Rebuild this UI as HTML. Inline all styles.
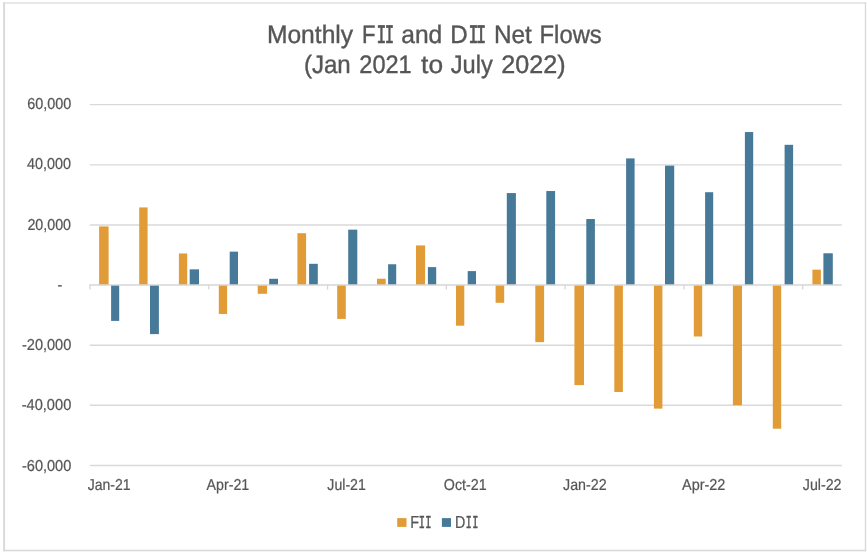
<!DOCTYPE html>
<html lang="en"><head><meta charset="utf-8"><title>Monthly FII and DII Net Flows</title>
<style>html,body{margin:0;padding:0;background:#fff;}svg{display:block;}text{font-family:'Liberation Sans',sans-serif;fill:#565656;text-rendering:geometricPrecision;stroke:#565656;stroke-width:0.22px;}.m{font-family:"DejaVu Sans Mono","Liberation Mono",monospace;stroke-width:0.5px;}.t{stroke-width:0.4px;}.t .m{stroke-width:0.65px;}</style></head><body>
<svg width="867" height="553" viewBox="0 0 867 553">
<rect x="0" y="0" width="867" height="553" fill="#fff"/>
<rect x="3.15" y="2.4" width="1.9" height="548.9" fill="#D9D9D9"/>
<rect x="3.15" y="2.4" width="863.05" height="1.2" fill="#D9D9D9"/>
<rect x="864.8" y="2.4" width="1.4" height="548.9" fill="#D9D9D9"/>
<rect x="3.15" y="549.7" width="863.05" height="1.6" fill="#D9D9D9"/>
<line x1="89.8" y1="104.60" x2="841.8" y2="104.60" stroke="#D9D9D9" stroke-width="1.4"/>
<line x1="89.8" y1="164.90" x2="841.8" y2="164.90" stroke="#D9D9D9" stroke-width="1.4"/>
<line x1="89.8" y1="225.00" x2="841.8" y2="225.00" stroke="#D9D9D9" stroke-width="1.4"/>
<line x1="89.8" y1="345.20" x2="841.8" y2="345.20" stroke="#D9D9D9" stroke-width="1.4"/>
<line x1="89.8" y1="405.30" x2="841.8" y2="405.30" stroke="#D9D9D9" stroke-width="1.4"/>
<line x1="89.8" y1="465.50" x2="841.8" y2="465.50" stroke="#D9D9D9" stroke-width="1.4"/>
<rect x="99.10" y="226.42" width="9.50" height="58.58" fill="#E19C38"/>
<rect x="111.10" y="285.00" width="8.10" height="35.91" fill="#477A99"/>
<rect x="139.20" y="207.42" width="8.40" height="77.58" fill="#E19C38"/>
<rect x="150.00" y="285.00" width="8.90" height="49.11" fill="#477A99"/>
<rect x="178.90" y="253.46" width="8.30" height="31.54" fill="#E19C38"/>
<rect x="189.70" y="269.34" width="9.30" height="15.66" fill="#477A99"/>
<rect x="218.80" y="285.00" width="8.30" height="28.96" fill="#E19C38"/>
<rect x="229.70" y="251.64" width="8.30" height="33.36" fill="#477A99"/>
<rect x="257.70" y="285.00" width="9.40" height="8.79" fill="#E19C38"/>
<rect x="269.20" y="278.78" width="8.80" height="6.22" fill="#477A99"/>
<rect x="297.40" y="233.21" width="8.70" height="51.79" fill="#E19C38"/>
<rect x="309.10" y="263.81" width="8.70" height="21.19" fill="#477A99"/>
<rect x="337.20" y="285.00" width="8.60" height="33.92" fill="#E19C38"/>
<rect x="348.20" y="229.66" width="9.10" height="55.34" fill="#477A99"/>
<rect x="377.00" y="278.73" width="8.70" height="6.27" fill="#E19C38"/>
<rect x="388.10" y="264.26" width="8.10" height="20.74" fill="#477A99"/>
<rect x="416.00" y="245.43" width="9.10" height="39.57" fill="#E19C38"/>
<rect x="427.90" y="267.10" width="8.30" height="17.90" fill="#477A99"/>
<rect x="456.00" y="285.00" width="8.30" height="40.67" fill="#E19C38"/>
<rect x="467.70" y="271.10" width="8.30" height="13.90" fill="#477A99"/>
<rect x="495.60" y="285.00" width="8.60" height="17.79" fill="#E19C38"/>
<rect x="506.80" y="193.06" width="9.10" height="91.94" fill="#477A99"/>
<rect x="535.30" y="285.00" width="8.80" height="57.14" fill="#E19C38"/>
<rect x="546.30" y="191.04" width="8.80" height="93.96" fill="#477A99"/>
<rect x="574.40" y="285.00" width="9.60" height="100.09" fill="#E19C38"/>
<rect x="586.30" y="219.03" width="8.60" height="65.97" fill="#477A99"/>
<rect x="614.30" y="285.00" width="8.60" height="106.98" fill="#E19C38"/>
<rect x="626.10" y="158.39" width="8.50" height="126.61" fill="#477A99"/>
<rect x="653.90" y="285.00" width="8.50" height="123.62" fill="#E19C38"/>
<rect x="665.00" y="165.63" width="9.20" height="119.37" fill="#477A99"/>
<rect x="693.80" y="285.00" width="8.40" height="51.48" fill="#E19C38"/>
<rect x="705.10" y="192.21" width="8.10" height="92.79" fill="#477A99"/>
<rect x="732.90" y="285.00" width="9.10" height="120.22" fill="#E19C38"/>
<rect x="744.90" y="132.06" width="8.30" height="152.94" fill="#477A99"/>
<rect x="772.80" y="285.00" width="8.40" height="143.71" fill="#E19C38"/>
<rect x="784.60" y="144.81" width="8.50" height="140.19" fill="#477A99"/>
<rect x="812.40" y="269.66" width="8.50" height="15.34" fill="#E19C38"/>
<rect x="823.40" y="253.27" width="9.40" height="31.73" fill="#477A99"/>
<line x1="89.3" y1="285.05" x2="841.8" y2="285.05" stroke="#D6D6D6" stroke-width="1.4"/>
<line x1="90.00" y1="285.00" x2="90.00" y2="289.60" stroke="#D6D6D6" stroke-width="1.25"/>
<line x1="208.78" y1="285.00" x2="208.78" y2="289.60" stroke="#D6D6D6" stroke-width="1.25"/>
<line x1="327.57" y1="285.00" x2="327.57" y2="289.60" stroke="#D6D6D6" stroke-width="1.25"/>
<line x1="446.35" y1="285.00" x2="446.35" y2="289.60" stroke="#D6D6D6" stroke-width="1.25"/>
<line x1="565.14" y1="285.00" x2="565.14" y2="289.60" stroke="#D6D6D6" stroke-width="1.25"/>
<line x1="683.92" y1="285.00" x2="683.92" y2="289.60" stroke="#D6D6D6" stroke-width="1.25"/>
<line x1="802.71" y1="285.00" x2="802.71" y2="289.60" stroke="#D6D6D6" stroke-width="1.25"/>
<text class="t" y="43.00" font-size="25.3"><tspan x="266.90" textLength="86.27" lengthAdjust="spacingAndGlyphs">Monthly</tspan> <tspan x="362.08" textLength="13.49" lengthAdjust="spacingAndGlyphs">F</tspan><tspan x="376.58" textLength="9.82" lengthAdjust="spacingAndGlyphs" class="m" font-size="23.9">I</tspan><tspan x="384.69" textLength="9.40" lengthAdjust="spacingAndGlyphs" class="m" font-size="23.9">I</tspan> <tspan x="401.27" textLength="41.04" lengthAdjust="spacingAndGlyphs">and</tspan> <tspan x="450.37" textLength="17.41" lengthAdjust="spacingAndGlyphs">D</tspan><tspan x="468.40" textLength="10.04" lengthAdjust="spacingAndGlyphs" class="m" font-size="23.9">I</tspan><tspan x="476.12" textLength="10.22" lengthAdjust="spacingAndGlyphs" class="m" font-size="23.9">I</tspan> <tspan x="493.93" textLength="37.95" lengthAdjust="spacingAndGlyphs">Net</tspan> <tspan x="539.58" textLength="62.15" lengthAdjust="spacingAndGlyphs">Flows</tspan></text>
<text class="t" y="73.00" font-size="25.3"><tspan x="303.91" textLength="46.84" lengthAdjust="spacingAndGlyphs">(Jan</tspan> <tspan x="359.31" textLength="52.38" lengthAdjust="spacingAndGlyphs">2021</tspan> <tspan x="421.07" textLength="22.00" lengthAdjust="spacingAndGlyphs">to</tspan> <tspan x="450.71" textLength="42.06" lengthAdjust="spacingAndGlyphs">July</tspan> <tspan x="501.24" textLength="64.30" lengthAdjust="spacingAndGlyphs">2022)</tspan></text>
<text x="27.14" y="109.00" font-size="15.8" textLength="44.02" lengthAdjust="spacingAndGlyphs">60,000</text>
<text x="27.06" y="169.00" font-size="15.8" textLength="44.10" lengthAdjust="spacingAndGlyphs">40,000</text>
<text x="27.39" y="230.00" font-size="15.8" textLength="43.66" lengthAdjust="spacingAndGlyphs">20,000</text>
<text x="21.95" y="350.00" font-size="15.8" textLength="49.38" lengthAdjust="spacingAndGlyphs">-20,000</text>
<text x="21.63" y="410.00" font-size="15.8" textLength="49.66" lengthAdjust="spacingAndGlyphs">-40,000</text>
<text x="21.95" y="471.00" font-size="15.8" textLength="49.38" lengthAdjust="spacingAndGlyphs">-60,000</text>
<text x="87.68" y="490.00" font-size="15.8" textLength="42.86" lengthAdjust="spacingAndGlyphs">Jan-21</text>
<text x="206.59" y="490.00" font-size="15.8" textLength="42.66" lengthAdjust="spacingAndGlyphs">Apr-21</text>
<text x="327.35" y="490.00" font-size="15.8" textLength="38.51" lengthAdjust="spacingAndGlyphs">Jul-21</text>
<text x="443.82" y="490.00" font-size="15.8" textLength="42.80" lengthAdjust="spacingAndGlyphs">Oct-21</text>
<text x="563.03" y="490.00" font-size="15.8" textLength="43.54" lengthAdjust="spacingAndGlyphs">Jan-22</text>
<text x="682.03" y="490.00" font-size="15.8" textLength="43.37" lengthAdjust="spacingAndGlyphs">Apr-22</text>
<text x="802.77" y="490.00" font-size="15.8" textLength="38.75" lengthAdjust="spacingAndGlyphs">Jul-22</text>
<text y="528.00" font-size="17.4"><tspan x="410.20" textLength="8.77" lengthAdjust="spacingAndGlyphs">F</tspan><tspan x="418.83" textLength="6.25" lengthAdjust="spacingAndGlyphs" class="m" font-size="16.4">I</tspan><tspan x="425.30" textLength="6.25" lengthAdjust="spacingAndGlyphs" class="m" font-size="16.4">I</tspan></text>
<text y="528.00" font-size="17.4"><tspan x="455.08" textLength="10.30" lengthAdjust="spacingAndGlyphs">D</tspan><tspan x="465.75" textLength="5.96" lengthAdjust="spacingAndGlyphs" class="m" font-size="16.4">I</tspan><tspan x="472.21" textLength="6.16" lengthAdjust="spacingAndGlyphs" class="m" font-size="16.4">I</tspan></text>
<text x="57.45" y="290.00" font-size="15.8" textLength="4.73" lengthAdjust="spacingAndGlyphs">-</text>
<rect x="397.2" y="518.1" width="9.3" height="8.8" fill="#E19C38"/>
<rect x="441.9" y="518.1" width="9.1" height="8.8" fill="#477A99"/>
</svg></body></html>
